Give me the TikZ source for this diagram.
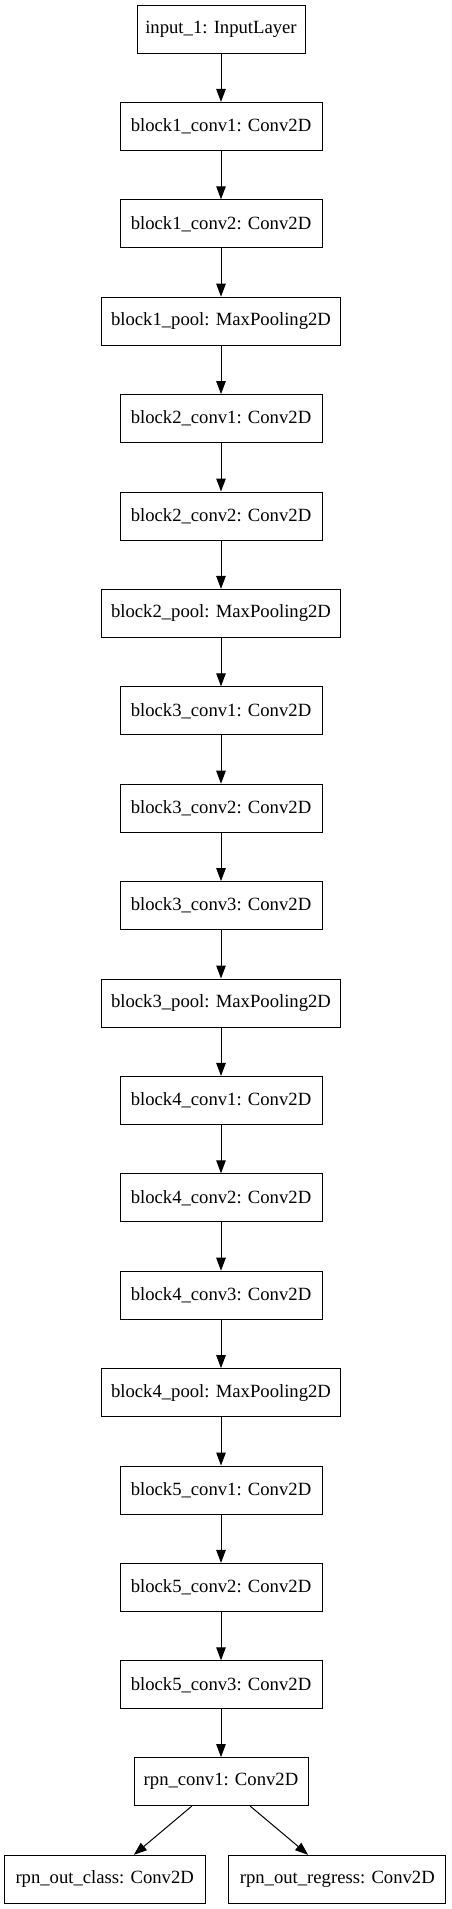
\documentclass[tikz,border=0pt]{standalone}
\usepackage{fontspec}
\setmainfont{Liberation Serif}
\usetikzlibrary{arrows.meta}
\begin{document}
\begin{tikzpicture}[x=1pt,y=-1pt,
  layer/.style={draw, line width=1pt, minimum height=48pt, inner sep=0pt, font=\fontsize{18.67}{22}\selectfont},
  conv/.style={layer, minimum width=202pt},
  pool/.style={layer, minimum width=239pt},
  link/.style={-{Triangle[length=13pt,width=9.5pt]}, line width=1pt}]
\useasboundingbox (0,0) rectangle (451,1909);
\node[layer, minimum width=168pt] (in) at (221,29) {input\_1: InputLayer};
\node[conv] (b1c1) at (221,126.4) {block1\_conv1: Conv2D};
\node[conv] (b1c2) at (221,223.8) {block1\_conv2: Conv2D};
\node[pool] (b1p) at (221,321.2) {block1\_pool: MaxPooling2D};
\node[conv] (b2c1) at (221,418.6) {block2\_conv1: Conv2D};
\node[conv] (b2c2) at (221,516) {block2\_conv2: Conv2D};
\node[pool] (b2p) at (221,613.4) {block2\_pool: MaxPooling2D};
\node[conv] (b3c1) at (221,710.8) {block3\_conv1: Conv2D};
\node[conv] (b3c2) at (221,808.2) {block3\_conv2: Conv2D};
\node[conv] (b3c3) at (221,905.6) {block3\_conv3: Conv2D};
\node[pool] (b3p) at (221,1003) {block3\_pool: MaxPooling2D};
\node[conv] (b4c1) at (221,1100.4) {block4\_conv1: Conv2D};
\node[conv] (b4c2) at (221,1197.8) {block4\_conv2: Conv2D};
\node[conv] (b4c3) at (221,1295.2) {block4\_conv3: Conv2D};
\node[pool] (b4p) at (221,1392.6) {block4\_pool: MaxPooling2D};
\node[conv] (b5c1) at (221,1490) {block5\_conv1: Conv2D};
\node[conv] (b5c2) at (221,1587.4) {block5\_conv2: Conv2D};
\node[conv] (b5c3) at (221,1684.8) {block5\_conv3: Conv2D};
\node[layer, minimum width=174pt] (rpn) at (221,1781.6) {rpn\_conv1: Conv2D};
\node[layer, minimum width=201pt] (cls) at (104.7,1879.3) {rpn\_out\_class: Conv2D};
\node[layer, minimum width=217pt] (reg) at (337.3,1879.3) {rpn\_out\_regress: Conv2D};
\foreach \a/\b in {in/b1c1, b1c1/b1c2, b1c2/b1p, b1p/b2c1, b2c1/b2c2, b2c2/b2p, b2p/b3c1, b3c1/b3c2, b3c2/b3c3, b3c3/b3p, b3p/b4c1, b4c1/b4c2, b4c2/b4c3, b4c3/b4p, b4p/b5c1, b5c1/b5c2, b5c2/b5c3, b5c3/rpn}
  \draw[link] (\a.south) -- (\b.north);
\draw[link] (rpn.-140) -- (cls.40);
\draw[link] (rpn.-40) -- (reg.140);
\end{tikzpicture}
\end{document}
